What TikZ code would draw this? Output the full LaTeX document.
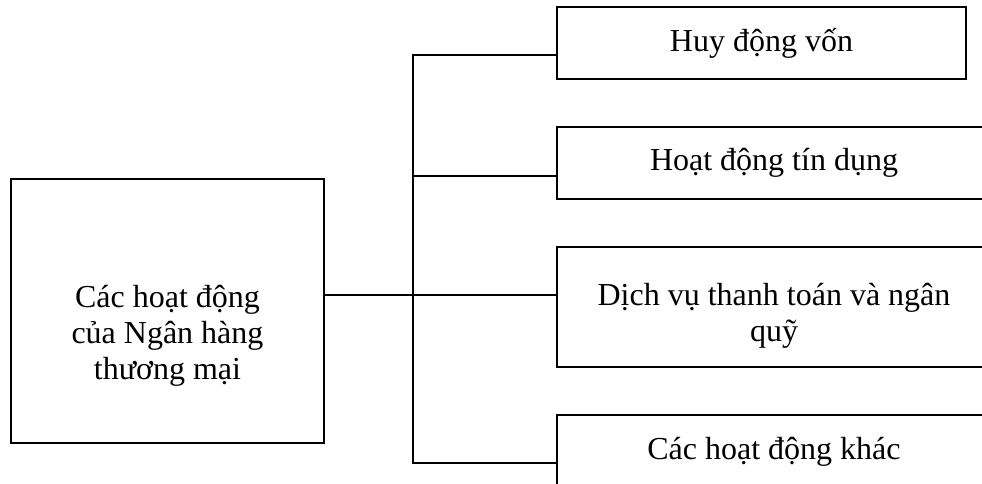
\documentclass[tikz,border=0pt]{standalone}
\usepackage{fontspec}
\setmainfont{Liberation Serif}
\begin{document}
\begin{tikzpicture}[x=1pt,y=-1pt,
  box/.style={draw, line width=1.5pt, inner sep=0pt, align=center},
  txt/.style={inner sep=0pt, align=center},
  conn/.style={line width=1.5pt},
  font=\fontsize{32}{36}\selectfont]
\useasboundingbox (0,0) rectangle (982,484);
\fill[white] (0,0) rectangle (982,484);
% main box
\node[box, minimum width=313pt, minimum height=264pt] (main) at (167.5,311) {};
\node[txt] (maintext) at (167.5,336) {Các hoạt động\\của Ngân hàng\\thương mại};
% right boxes
\node[box, minimum width=409pt, minimum height=72pt] (b1) at (761.5,43) {Huy động vốn};
\node[box, minimum width=434pt, minimum height=72pt] (b2) at (774,163) {Hoạt động tín dụng};
\node[box, minimum width=434pt, minimum height=120pt] (b3) at (774,307) {\rule{0pt}{40pt}Dịch vụ thanh toán và ngân\\quỹ};
\node[box, minimum width=434pt, minimum height=74pt] (b4) at (774,452) {Các hoạt động khác};
% trunk
\coordinate (tt) at (413,55);
\coordinate (tb) at (413,463);
\draw[conn] ([yshift=-12pt]b1.west) -- (tt) -- (tb) -- ([yshift=-11pt]b4.west);
\draw[conn] ([yshift=-13pt]b2.west) coordinate (c2) -- (c2 -| tt);
\draw[conn] ([yshift=16pt]main.east) -- ([yshift=12pt]b3.west);
\end{tikzpicture}
\end{document}
